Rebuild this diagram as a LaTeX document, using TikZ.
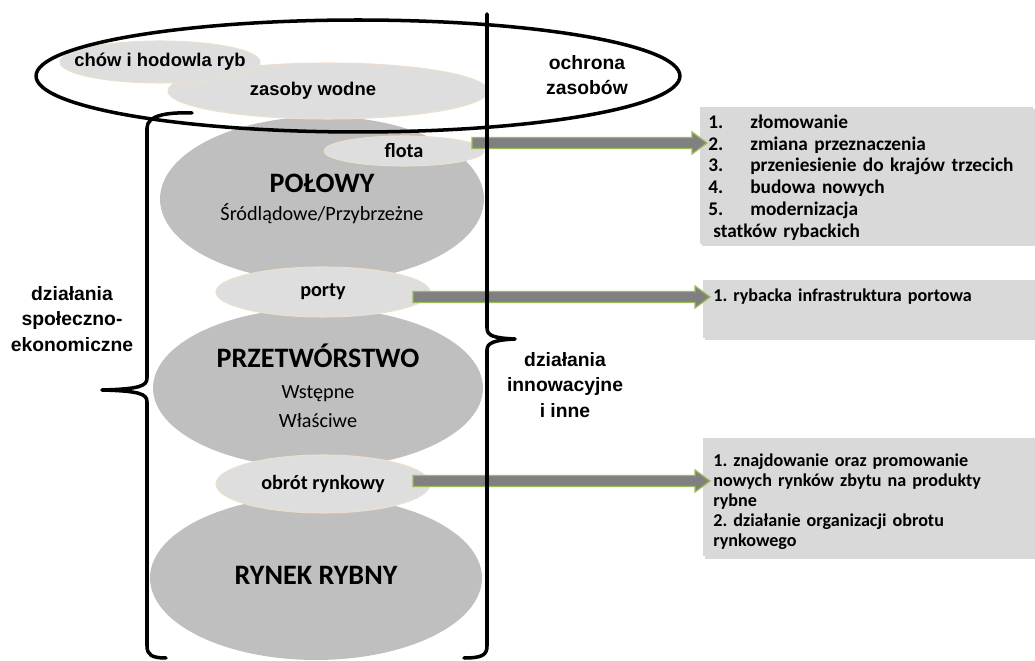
\documentclass[tikz,border=0pt]{standalone}
\usepackage{fontspec}
\setmainfont{Carlito}
\newfontfamily\arialfont{Liberation Sans}
\usetikzlibrary{shapes.geometric,calc,shadows}
\frenchspacing
\definecolor{discgray}{RGB}{191,191,191}
\definecolor{taggray}{RGB}{222,222,222}
\definecolor{tagrim}{RGB}{238,222,204}
\definecolor{notegray}{RGB}{217,217,217}
\definecolor{flowgray}{RGB}{128,128,128}
\definecolor{flowrim}{RGB}{155,187,89}
\tikzset{%
	disc/.style={ellipse,fill=discgray,inner sep=0pt,align=center,font=\bfseries\fontsize{16}{13}\selectfont},
	tag/.style={ellipse,fill=taggray,draw=tagrim,line width=0.6pt,inner sep=0pt,font=\bfseries\fontsize{11.5}{13}\selectfont},
	arialtag/.style={tag,font=\arialfont\bfseries\fontsize{10.5}{13}\selectfont},
	side/.style={align=center,font=\arialfont\bfseries\fontsize{11}{14.5}\selectfont},
	note/.style={fill=notegray,anchor=north west,inner ysep=0pt,align=left,drop shadow={shadow xshift=1.2pt,shadow yshift=-1.2pt,opacity=0.3}},
	brace/.style={line width=2pt,line cap=round,line join=round},
	flow/.style={fill=flowgray,draw=flowrim,line width=0.7pt},
}
\newcommand\listno[1]{\makebox[0.84cm][l]{#1}}
\newcommand\plain{\normalfont\fontsize{11.5}{13}\selectfont}
\newcommand\blockarrow[2]{%
	\draw[flow] ($(#1)+(0,-5.5)$) -- ($(#2)+(-15,-5.5)$) -- ($(#2)+(-15,-11)$) -- (#2)
		-- ($(#2)+(-15,11)$) -- ($(#2)+(-15,5.5)$) -- ($(#1)+(0,5.5)$) -- cycle;}

\begin{document}
\begin{tikzpicture}[x=0.02cm,y=-0.02cm]
	\useasboundingbox (0,0) rectangle (1035,661);
	\node[disc,minimum width=6.48cm,minimum height=3.3cm] (polowy) at (322,199) {\raisebox{2pt}{POŁOWY}\\[1pt]\plain Śródlądowe/Przybrzeżne};
	\node[disc,minimum width=6.6cm,minimum height=3.2cm] (przetw) at (318,388) {\raisebox{4pt}{PRZETWÓRSTWO}\\[4pt]\plain \raisebox{3pt}{Wstępne}\\[3pt]\plain \raisebox{3pt}{Właściwe}};
	\node[disc,minimum width=6.64cm,minimum height=3.28cm] (rynek) at (316,578) {\raisebox{3pt}{RYNEK RYBNY}};
	\node[arialtag,minimum width=6.4cm,minimum height=1.12cm] (zasoby) at (328,91) {\hspace{-0.6cm}zasoby wodne};
	\node[arialtag,inner xsep=-0.4cm,minimum width=4cm,minimum height=0.84cm] (chow) at (160,62) {\raisebox{2pt}{chów i hodowla ryb}};
	\node[tag,minimum width=3.2cm,minimum height=0.6cm] (flota) at (404,151) {flota};
	\node[tag,minimum width=4.28cm,minimum height=1cm] (porty) at (323,292) {\raisebox{2pt}{porty}};
	\node[tag,minimum width=4.28cm,minimum height=1.16cm] (obrot) at (323,484) {\raisebox{2pt}{obrót rynkowy}};
	\node[note,inner xsep=0.16cm,text width=6.34cm,text height=12pt,text depth=65.8pt,font=\bfseries\fontsize{11}{12.4}\selectfont] (fleet) at (700,107)
		{\listno{1.}złomowanie\\\listno{2.}zmiana przeznaczenia\\\listno{3.}przeniesienie do krajów trzecich\\\listno{4.}budowa nowych\\\listno{5.}modernizacja\\\hspace{0.1cm}statków rybackich};
	\node[note,inner xsep=0.2cm,text width=6.26cm,text height=12.2pt,text depth=20.7pt,font=\bfseries\fontsize{10.3}{12}\selectfont] (ports) at (703,280)
		{1. rybacka infrastruktura portowa};
	\node[note,inner xsep=0.2cm,text width=6.26cm,text height=16.2pt,text depth=51pt,font=\bfseries\fontsize{10.3}{11.3}\selectfont] (market) at (703,438)
		{1. znajdowanie oraz promowanie\\nowych rynków zbytu na produkty\\rybne\\2. działanie organizacji obrotu\\rynkowego};
	\coordinate (fleetout) at (472,143);
	\coordinate (portsout) at (413,297);
	\coordinate (marketout) at (413,481);
	\coordinate (fleettip) at ($(fleetout -| fleet.west)+(7,0)$);
	\coordinate (portstip) at ($(portsout -| ports.west)+(7,0)$);
	\coordinate (markettip) at ($(marketout -| market.west)+(7,0)$);
	\blockarrow{fleetout}{fleettip}
	\blockarrow{portsout}{portstip}
	\blockarrow{marketout}{markettip}
	\draw[line width=2pt] (358,76) ellipse [x radius=6.44cm, y radius=1.12cm];
	\draw[brace] (192,113) .. controls (165,112) and (147,116) .. (147,128) -- (147,378)
		.. controls (147,386) and (140,389) .. (102,390) .. controls (140,391) and (147,394) .. (147,402)
		-- (147,646) .. controls (147,655) and (152,658) .. (166,658);
	\draw[brace] (487,14) -- (487,328) .. controls (487,336) and (494,338) .. (515,339)
		.. controls (494,340) and (487,343) .. (487,350) -- (487,646)
		.. controls (487,655) and (482,658) .. (464,658);
	\node[side] (protect) at (587,75) {ochrona\\zasobów};
	\node[side] (social) at (72,319) {działania\\społeczno-\\ekonomiczne};
	\node[side] (innov) at (565,385) {działania\\innowacyjne\\i inne};
\end{tikzpicture}
\end{document}
